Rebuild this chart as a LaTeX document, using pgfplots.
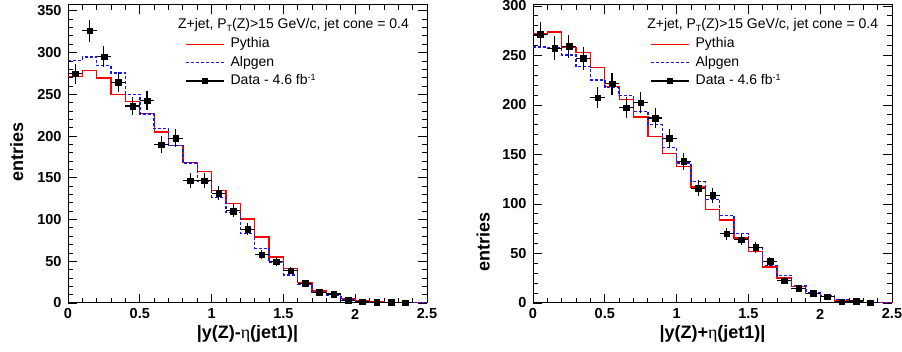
\documentclass[border=0pt]{standalone}
\usepackage{fontspec}
\setmainfont{Liberation Sans}
\newfontfamily\serifgr{Liberation Serif}
\usepackage{pgfplots}
\pgfplotsset{compat=1.18}
\newcommand{\lgfont}{\fontsize{14}{14}\selectfont}
\newcommand{\subT}{\raisebox{-0.4ex}{\fontsize{9}{9}\selectfont T}}
\pgfplotsset{
  rootstyle/.style={
    anchor=south west, width=359pt, height=298pt, scale only axis,
    xmin=0, xmax=2.5, ymin=0,
    xtick={0,0.5,1,1.5,2,2.5},
    xticklabels={0,0.5,1,1.5,2,2.5},
    minor x tick num=4, minor y tick num=4,
    tick align=inside, tick pos=both,
    major tick length=9pt, minor tick length=5pt,
    every tick/.style={black, line width=0.8pt},
    axis line style={black, line width=1pt},
    /pgf/number format/assume math mode=true,
    ticklabel style={font=\bfseries\fontsize{14.5}{14.5}\selectfont},
    xticklabel style={anchor=center, yshift=-11pt},
    yticklabel style={anchor=east, xshift=-3pt},
    label style={font=\bfseries\fontsize{18}{18}\selectfont},
    xlabel style={at={(axis description cs:0.5,-0.105)}, anchor=center},
    clip mode=individual,
    legend style={draw=none, fill=none, at={(0.326,0.891)}, anchor=north west,
      inner sep=0pt, font=\lgfont, row sep=5.4pt, column sep=6pt,
      nodes={inner sep=0pt, text height=10pt, text depth=3pt}},
    legend cell align=left,
    legend image code/.code={\draw[mark repeat=2,mark phase=2,##1] plot coordinates {(0pt,0pt) (19pt,0pt) (38pt,0pt)};},
  },
  pyth/.style={color={rgb,255:red,255;green,0;blue,0}, line width=1.3pt, const plot mark left},
  alpg/.style={color={rgb,255:red,20;green,20;blue,255}, line width=1.4pt, dash pattern=on 3pt off 2pt, const plot mark left},
  dat/.style={black, only marks, mark=square*, mark size=2.8pt,
    error bars/.cd, x dir=both, x explicit, y dir=both, y explicit,
    error mark=none, error bar style={black, line width=1.1pt}},
}
\begin{document}
\begin{tikzpicture}[x=1pt,y=1pt]
\path[use as bounding box] (0,0) rectangle (902,352);
% ---------------- left -----------------
\begin{axis}[rootstyle, at={(68pt,49pt)}, ymax=357,
  ytick={0,50,100,150,200,250,300,350},
  xlabel={|y(Z)-{\serifgr\mdseries η}(jet1)|},
  ylabel={entries},
  ylabel style={at={(axis description cs:-0.143,0.507)}, anchor=center}]
\addplot[pyth] coordinates {
(0,271) (0.1,278.5) (0.2,269.5) (0.3,250) (0.4,241.5) (0.5,227) (0.6,205) (0.7,188.5)
(0.8,168.5) (0.9,157.5) (1.0,134.5) (1.1,119.5) (1.2,100.5) (1.3,79) (1.4,55) (1.5,41.5)
(1.6,24.5) (1.7,14.5) (1.8,11) (1.9,5) (2.0,2.4) (2.1,1.2) (2.2,0.6) (2.3,0.4) (2.4,0.2) (2.5,0.2)};
\addlegendentry{Pythia}
\addplot[alpg] coordinates {
(0,290.5) (0.1,294.5) (0.2,284.5) (0.3,275.5) (0.4,250) (0.5,226.5) (0.6,209) (0.7,188.5)
(0.8,167.5) (0.9,146) (1.0,126.7) (1.1,108.3) (1.2,83.5) (1.3,65.6) (1.4,48.4) (1.5,33.6)
(1.6,22.4) (1.7,12.4) (1.8,8.8) (1.9,3.6) (2.0,1.6) (2.1,0.8) (2.2,0.5) (2.3,0.3) (2.4,0.2) (2.5,0.2)};
\addlegendentry{Alpgen}
\addplot[forget plot, dat] coordinates {
(0.05,274.5) +- (0.05,12)
(0.15,326) +- (0.05,13)
(0.25,295) +- (0.05,12.5)
(0.35,264.5) +- (0.05,12)
(0.45,236) +- (0.05,11)
(0.55,242.5) +- (0.05,11.5)
(0.65,189.5) +- (0.05,10)
(0.75,197.5) +- (0.05,10.5)
(0.85,146.5) +- (0.05,9)
(0.95,146.3) +- (0.05,9)
(1.05,131.5) +- (0.05,8.5)
(1.15,110.3) +- (0.05,7.7)
(1.25,88.3) +- (0.05,7)
(1.35,58) +- (0.05,5.6)
(1.45,49.5) +- (0.05,5.2)
(1.55,38.8) +- (0.05,4.6)
(1.65,23.6) +- (0.05,3.6)
(1.75,12.8) +- (0.05,2.6)
(1.85,10.8) +- (0.05,2.4)
(1.95,3.5) +- (0.05,1.4)
(2.05,1.5) +- (0.05,0.9)
(2.15,0.8) +- (0.05,0.6)
(2.25,0.6) +- (0.05,0.5)
(2.35,0.5) +- (0.05,0.5)};
\addlegendimage{black, line width=1.1pt, mark=square*, mark size=2.2pt}
\addlegendentry{Data - 4.6 fb\raisebox{0.55ex}{\fontsize{9}{9}\selectfont -1}}
\node[anchor=west, font=\lgfont, inner sep=0pt] at (axis description cs:0.306,0.933)
  {Z+jet, P\subT(Z)>15 GeV/c, jet cone = 0.4};
\end{axis}
% ---------------- right -----------------
\begin{axis}[rootstyle, at={(533pt,49pt)}, ymax=301,
  ytick={0,50,100,150,200,250,300},
  xlabel={|y(Z)+{\serifgr\mdseries η}(jet1)|},
  ylabel={entries},
  ylabel style={at={(axis description cs:-0.139,0.205)}, anchor=center}]
\addplot[pyth] coordinates {
(0,271.6) (0.1,273.7) (0.2,258.4) (0.3,253) (0.4,237.7) (0.5,218.4) (0.6,205.8) (0.7,187.9)
(0.8,168.2) (0.9,151) (1.0,138) (1.1,117.3) (1.2,94.3) (1.3,83.7) (1.4,65.8) (1.5,51.9)
(1.6,36.3) (1.7,25.1) (1.8,16.6) (1.9,9.8) (2.0,6.4) (2.1,2) (2.2,1.4) (2.3,0.5) (2.4,0.3) (2.5,0.3)};
\addlegendentry{Pythia}
\addplot[alpg] coordinates {
(0,258.7) (0.1,257.4) (0.2,250.6) (0.3,238.7) (0.4,225.2) (0.5,217.4) (0.6,209.3) (0.7,193.6)
(0.8,180.1) (0.9,157) (1.0,141.4) (1.1,122.8) (1.2,104.8) (1.3,88.5) (1.4,69.9) (1.5,56.3)
(1.6,38) (1.7,27.8) (1.8,17.6) (1.9,10.9) (2.0,7.4) (2.1,3.8) (2.2,2) (2.3,0.8) (2.4,0.5) (2.5,0.5)};
\addlegendentry{Alpgen}
\addplot[forget plot, dat] coordinates {
(0.05,271.6) +- (0.05,12.2)
(0.15,257.4) +- (0.05,12)
(0.25,259.1) +- (0.05,12)
(0.35,247.2) +- (0.05,11.7)
(0.45,207.2) +- (0.05,10.7)
(0.55,221.5) +- (0.05,11)
(0.65,197.4) +- (0.05,10.4)
(0.75,202.4) +- (0.05,10.5)
(0.85,186.9) +- (0.05,10.1)
(0.95,166.5) +- (0.05,9.5)
(1.05,143.1) +- (0.05,8.8)
(1.15,116) +- (0.05,8)
(1.25,108.8) +- (0.05,7.7)
(1.35,69.9) +- (0.05,6.2)
(1.45,64.1) +- (0.05,5.9)
(1.55,56.3) +- (0.05,5.5)
(1.65,42) +- (0.05,4.8)
(1.75,22.4) +- (0.05,3.5)
(1.85,14.9) +- (0.05,2.9)
(1.95,9.8) +- (0.05,2.3)
(2.05,6.4) +- (0.05,1.9)
(2.15,1.4) +- (0.05,0.9)
(2.25,2) +- (0.05,1)
(2.35,0.3) +- (0.05,0.4)};
\addlegendimage{black, line width=1.1pt, mark=square*, mark size=2.2pt}
\addlegendentry{Data - 4.6 fb\raisebox{0.55ex}{\fontsize{9}{9}\selectfont -1}}
\node[anchor=west, font=\lgfont, inner sep=0pt] at (axis description cs:0.318,0.933)
  {Z+jet, P\subT(Z)>15 GeV/c, jet cone = 0.4};
\end{axis}
\end{tikzpicture}
\end{document}
